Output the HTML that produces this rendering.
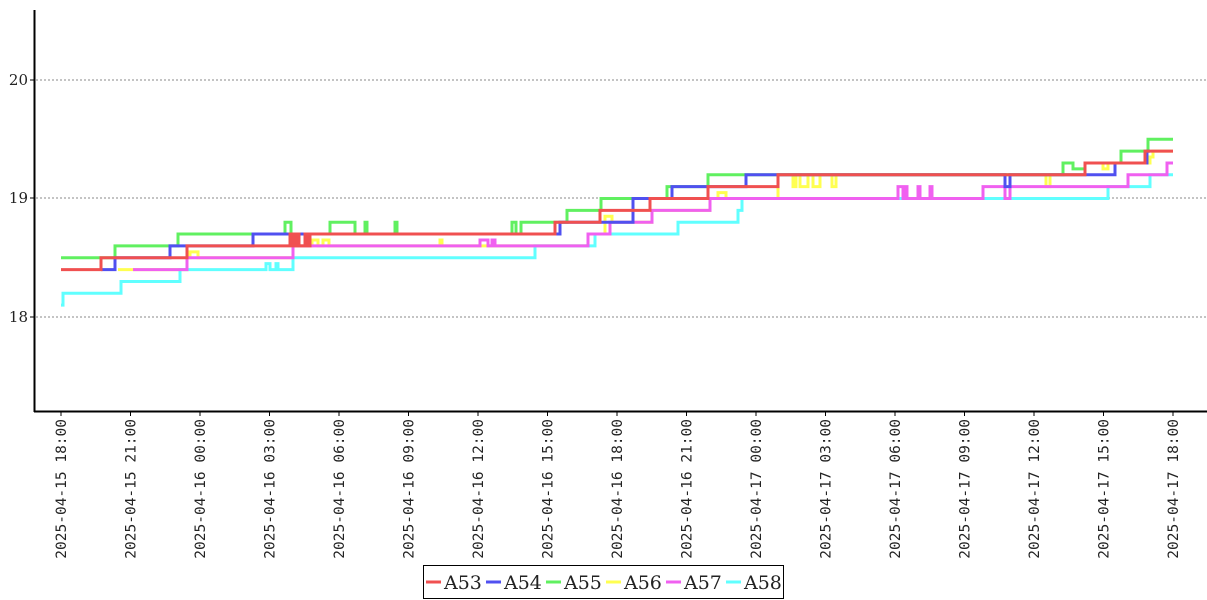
<!DOCTYPE html>
<html><head><meta charset="utf-8"><style>
body{margin:0;background:#fff;width:1207px;height:600px;overflow:hidden}
svg{display:block}
</style></head><body>
<svg id="s" width="1207" height="600" xmlns="http://www.w3.org/2000/svg">
<g stroke="#888" stroke-width="1" stroke-dasharray="2,2">
<line x1="36" y1="80" x2="1207" y2="80"/><line x1="36" y1="198" x2="1207" y2="198"/><line x1="36" y1="317" x2="1207" y2="317"/>
</g>
<g font-family="'DejaVu Serif','Liberation Serif',serif" font-size="15" fill="#222" text-anchor="end">
<text x="28" y="85">20</text><text x="28" y="203">19</text><text x="28" y="322">18</text>
</g>
<g stroke="#000" stroke-width="1">
<line x1="30" y1="80" x2="34" y2="80"/><line x1="30" y1="198" x2="34" y2="198"/><line x1="30" y1="317" x2="34" y2="317"/>
</g>
<g id="series" fill="none" stroke-width="3" stroke-linejoin="miter"></g>
<line x1="34.5" y1="10" x2="34.5" y2="412" stroke="#000" stroke-width="2"/>
<line x1="34" y1="411.5" x2="1207" y2="411.5" stroke="#000" stroke-width="2"/>
<g id="xt" font-family="'DejaVu Sans Mono','Liberation Mono',monospace" font-size="14.5" fill="#222"></g>
<rect x="423.5" y="565.5" width="360" height="33" fill="#fff" stroke="#000" stroke-width="1"/>
<g font-family="'DejaVu Serif','Liberation Serif',serif" font-size="19" fill="#222">
<line x1="426" y1="582" x2="441" y2="582" stroke="#f05050" stroke-width="3"/><text x="444" y="589">A53</text>
<line x1="486" y1="582" x2="501" y2="582" stroke="#5050f0" stroke-width="3"/><text x="504" y="589">A54</text>
<line x1="546" y1="582" x2="561" y2="582" stroke="#60f060" stroke-width="3"/><text x="564" y="589">A55</text>
<line x1="606" y1="582" x2="621" y2="582" stroke="#ffff50" stroke-width="3"/><text x="624" y="589">A56</text>
<line x1="666" y1="582" x2="681" y2="582" stroke="#f060f0" stroke-width="3"/><text x="684" y="589">A57</text>
<line x1="726" y1="582" x2="741" y2="582" stroke="#60ffff" stroke-width="3"/><text x="744" y="589">A58</text>
</g>
</svg>
<script>
var NS="http://www.w3.org/2000/svg";
function Y(v){return 317-(v-18)*118.5;}
function step(pts,end){var d="M"+pts[0][0]+","+Y(pts[0][1]);
for(var i=1;i<pts.length;i++){d+=" H"+pts[i][0]+" V"+Y(pts[i][1]);}
d+=" H"+end;return d;}
var S=[
["#ffff50",[[118,18.4],[187,18.5],[190,18.55],[198,18.5],[293,18.6],[312,18.65],[318,18.6],[323,18.65],[329,18.6],[440,18.65],[442,18.6],[588,18.7],[605,18.85],[612,18.8],[652,18.9],[710,19.0],[718,19.05],[726,19.0],[778,19.2],[793,19.1],[796,19.2],[800,19.1],[808,19.2],[813,19.1],[820,19.2],[832,19.1],[836,19.2],[1046,19.1],[1050,19.2],[1085,19.3],[1103,19.25],[1108,19.3],[1150,19.35],[1153,19.4]],1173],
["#60ffff",[[61,18.1],[63,18.2],[67,18.2],[121,18.3],[180,18.4],[266,18.45],[270,18.4],[276,18.45],[278,18.4],[293,18.5],[535,18.6],[595,18.7],[678,18.8],[738,18.9],[742,19.0],[1108,19.1],[1150,19.2]],1173],
["#f060f0",[[133,18.4],[187,18.5],[293,18.6],[480,18.65],[488,18.6],[492,18.65],[495,18.6],[588,18.7],[610,18.8],[652,18.9],[710,19.0],[898,19.1],[903,19.0],[905,19.1],[907,19.0],[918,19.1],[920,19.0],[930,19.1],[932,19.0],[983,19.1],[1005,19.0],[1010,19.1],[1128,19.2],[1167,19.3]],1173],
["#60f060",[[61,18.5],[115,18.6],[178,18.7],[285,18.8],[291,18.7],[330,18.8],[355,18.7],[365,18.8],[367,18.7],[395,18.8],[397,18.7],[512,18.8],[516,18.7],[521,18.8],[567,18.9],[601,19.0],[667,19.1],[708,19.2],[1063,19.3],[1073,19.25],[1085,19.3],[1121,19.4],[1148,19.5]],1173],
["#5050f0",[[101,18.4],[115,18.5],[170,18.6],[177,18.6],[253,18.7],[560,18.8],[633,19.0],[672,19.1],[746,19.2],[1005,19.1],[1010,19.2],[1090,19.2],[1115,19.3],[1147,19.4]],1150],
["#f05050",[[61,18.4],[101,18.5],[187,18.6],[290,18.7],[293,18.6],[296,18.7],[299,18.6],[305,18.7],[308,18.6],[310,18.7],[555,18.8],[600,18.9],[650,19.0],[708,19.1],[778,19.2],[1085,19.3],[1145,19.4]],1173]
];
var g=document.getElementById("series");
S.forEach(function(s){var p=document.createElementNS(NS,"path");p.setAttribute("d",step(s[1],s[2]));p.setAttribute("stroke",s[0]);g.appendChild(p);});
var labels=["2025-04-15 18:00","2025-04-15 21:00","2025-04-16 00:00","2025-04-16 03:00","2025-04-16 06:00","2025-04-16 09:00","2025-04-16 12:00","2025-04-16 15:00","2025-04-16 18:00","2025-04-16 21:00","2025-04-17 00:00","2025-04-17 03:00","2025-04-17 06:00","2025-04-17 09:00","2025-04-17 12:00","2025-04-17 15:00","2025-04-17 18:00"];
var xt=document.getElementById("xt");
labels.forEach(function(l,i){var x=61+i*69.5;
var ln=document.createElementNS(NS,"line");ln.setAttribute("x1",x);ln.setAttribute("x2",x);ln.setAttribute("y1",412);ln.setAttribute("y2",416);ln.setAttribute("stroke","#000");xt.appendChild(ln);
var t=document.createElementNS(NS,"text");t.setAttribute("transform","translate("+(x+5)+",419) rotate(-90)");t.setAttribute("text-anchor","end");t.textContent=l;xt.appendChild(t);});
</script>
</body></html>
